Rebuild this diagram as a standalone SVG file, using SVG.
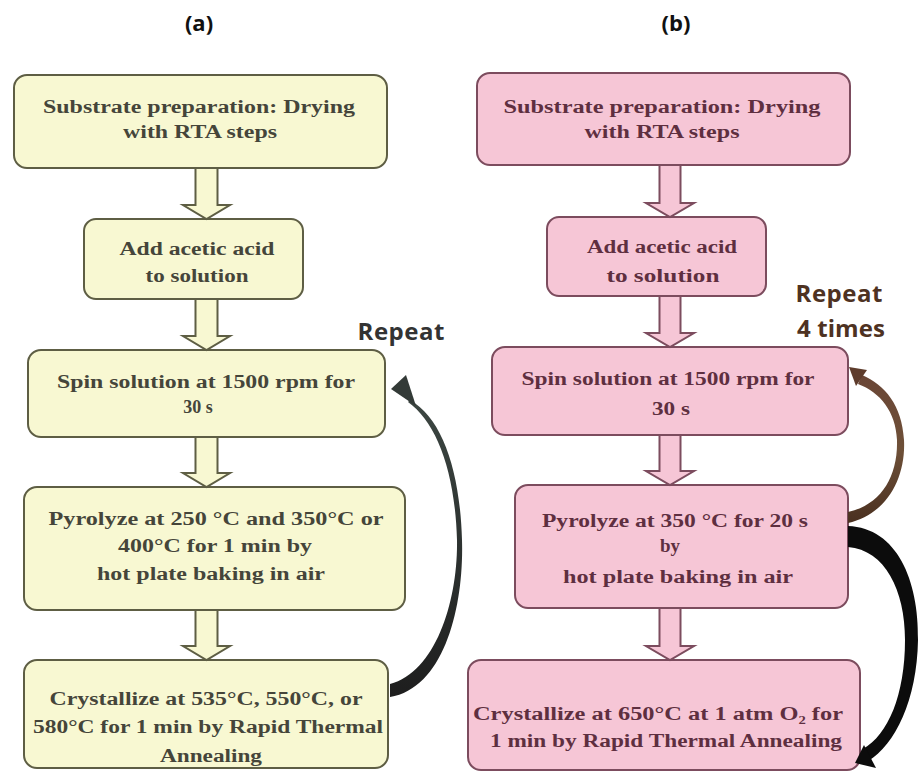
<svg xmlns="http://www.w3.org/2000/svg" width="919" height="773" viewBox="0 0 919 773">
<defs>
<style>
.ya{fill:#f8f8d2;stroke:#5e5e44;stroke-width:2}
.pk{fill:#f6c6d6;stroke:#7c4c5e;stroke-width:2}
.ta{font-family:"Liberation Serif","Times New Roman",serif;font-weight:bold;font-size:18px;fill:#45453a;text-anchor:middle}
.tb{font-family:"Liberation Serif","Times New Roman",serif;font-weight:bold;font-size:18px;fill:#5e2f40;text-anchor:middle}
.ttl{font-family:"Open Sans","Liberation Sans",sans-serif;font-weight:bold;font-size:22px;fill:#111;text-anchor:middle}
.rep{font-family:"Open Sans","Liberation Sans",sans-serif;font-weight:bold;font-size:24px;text-anchor:middle}
</style>
<linearGradient id="ga" x1="0" y1="0" x2="0" y2="1">
<stop offset="0" stop-color="#3c4642"/><stop offset="1" stop-color="#1e1e1e"/>
</linearGradient>
<linearGradient id="gb" x1="0" y1="0" x2="0" y2="1">
<stop offset="0" stop-color="#6a4636"/><stop offset="0.5" stop-color="#6e5038"/><stop offset="1" stop-color="#4a3020"/>
</linearGradient>
</defs>
<rect width="919" height="773" fill="#fff"/>
<text class="ttl" x="199" y="31">(a)</text>
<text class="ttl" x="676" y="31">(b)</text>
<text class="rep" x="401" y="340" fill="#333" textLength="87">Repeat</text>
<text class="rep" x="839" y="302" fill="#4e3222" textLength="87">Repeat</text>
<text class="rep" x="841" y="337" fill="#4e3222" textLength="88">4 times</text>

<g id="a1"><rect class="ya" x="14" y="75" width="373" height="93" rx="13"/>
<text class="ta" x="199" y="113" textLength="312" lengthAdjust="spacingAndGlyphs">Substrate preparation: Drying</text>
<text class="ta" x="200" y="138" textLength="154" lengthAdjust="spacingAndGlyphs">with RTA steps</text></g>
<g id="a2"><rect class="ya" x="84" y="219" width="219" height="80" rx="12"/>
<text class="ta" x="197" y="255" textLength="155" lengthAdjust="spacingAndGlyphs">Add acetic acid</text>
<text class="ta" x="197" y="282" textLength="103" lengthAdjust="spacingAndGlyphs">to solution</text></g>
<g id="a3"><rect class="ya" x="28" y="350" width="357" height="87" rx="13"/>
<text class="ta" x="206" y="388" textLength="298" lengthAdjust="spacingAndGlyphs">Spin solution at 1500 rpm for</text>
<text class="ta" x="198" y="413">30 s</text></g>
<g id="a4"><rect class="ya" x="24" y="487" width="381" height="123" rx="13"/>
<text class="ta" x="216" y="525" textLength="335" lengthAdjust="spacingAndGlyphs">Pyrolyze at 250 °C and 350°C or</text>
<text class="ta" x="215" y="552" textLength="194" lengthAdjust="spacingAndGlyphs">400°C for 1 min by</text>
<text class="ta" x="211" y="580" textLength="228" lengthAdjust="spacingAndGlyphs">hot plate baking in air</text></g>
<g id="a5"><rect class="ya" x="24" y="660" width="364" height="108" rx="13"/>
<text class="ta" x="206" y="705" textLength="313" lengthAdjust="spacingAndGlyphs">Crystallize at 535°C, 550°C, or</text>
<text class="ta" x="208" y="733" textLength="350" lengthAdjust="spacingAndGlyphs">580°C for 1 min by Rapid Thermal</text>
<text class="ta" x="211" y="762" textLength="102" lengthAdjust="spacingAndGlyphs">Annealing</text></g>

<g id="b1"><rect class="pk" x="477" y="73" width="373" height="92" rx="13"/>
<text class="tb" x="662" y="113" textLength="317" lengthAdjust="spacingAndGlyphs">Substrate preparation: Drying</text>
<text class="tb" x="662" y="138" textLength="155" lengthAdjust="spacingAndGlyphs">with RTA steps</text></g>
<g id="b2"><rect class="pk" x="547" y="217" width="219" height="79" rx="12"/>
<text class="tb" x="662" y="253" textLength="150" lengthAdjust="spacingAndGlyphs">Add acetic acid</text>
<text class="tb" x="663" y="282" textLength="113" lengthAdjust="spacingAndGlyphs">to solution</text></g>
<g id="b3"><rect class="pk" x="492" y="347" width="356" height="88" rx="13"/>
<text class="tb" x="668" y="385" textLength="293" lengthAdjust="spacingAndGlyphs">Spin solution at 1500 rpm for</text>
<text class="tb" x="671" y="415" textLength="38" lengthAdjust="spacingAndGlyphs">30 s</text></g>
<g id="b4"><rect class="pk" x="515" y="485" width="333" height="123" rx="13"/>
<text class="tb" x="675" y="527" textLength="266" lengthAdjust="spacingAndGlyphs">Pyrolyze at 350 °C for 20 s</text>
<text class="tb" x="670" y="552" textLength="20" lengthAdjust="spacingAndGlyphs">by</text>
<text class="tb" x="678" y="583" textLength="230" lengthAdjust="spacingAndGlyphs">hot plate baking in air</text></g>
<g id="b5"><rect class="pk" x="468" y="660" width="392" height="110" rx="13"/>
<text class="tb" x="658" y="720" textLength="370" lengthAdjust="spacingAndGlyphs">Crystallize at 650°C at 1 atm O₂ for</text>
<text class="tb" x="666" y="747" textLength="352" lengthAdjust="spacingAndGlyphs">1 min by Rapid Thermal Annealing</text></g>

<g id="connectors">
<path class="ya" d="M195.5 169 V205 H183 L206.5 219 L230 205 H217.5 V169"/>
<path class="ya" d="M195.5 300 V336 H183 L206.5 350 L230 336 H217.5 V300"/>
<path class="ya" d="M195.5 438 V473 H183 L206.5 487 L230 473 H217.5 V438"/>
<path class="ya" d="M195.5 611 V646 H183 L206.5 660 L230 646 H217.5 V611"/>
<path class="pk" d="M659.5 166 V203 H646 L670 217 L694 203 H680.5 V166"/>
<path class="pk" d="M659.5 297 V333 H646 L670 347 L694 333 H680.5 V297"/>
<path class="pk" d="M659.5 436 V471 H646 L670 485 L694 471 H680.5 V436"/>
<path class="pk" d="M659.5 609 V646 H646 L670 660 L694 646 H680.5 V609"/>
<path fill="url(#ga)" d="M390 697 C445 688 464 605 462 540 C460 470 442 418 410 400 L408 402 C436 422 455 470 457 540 C458 600 436 672 390 684 Z"/>
<polygon fill="#333a37" points="391,389 406,375 416,406"/>
<path fill="url(#gb)" d="M848 523 C885 515 906 480 904 440 C902 405 885 385 862 375 L858 384 C880 392 896 412 897 440 C898 478 880 505 848 512 Z"/>
<polygon fill="#5e3c2c" points="849,367 867,370 856,386"/>
<path fill="#0c0c0c" d="M848 526 C897 528 919 580 918 640 C917 700 895 745 868 761 L863 749 C888 735 905 695 905 640 C905 590 885 550 848 547 Z"/>
<polygon fill="#0c0c0c" points="855,763 864,745 876,768"/>
</g>
</svg>
